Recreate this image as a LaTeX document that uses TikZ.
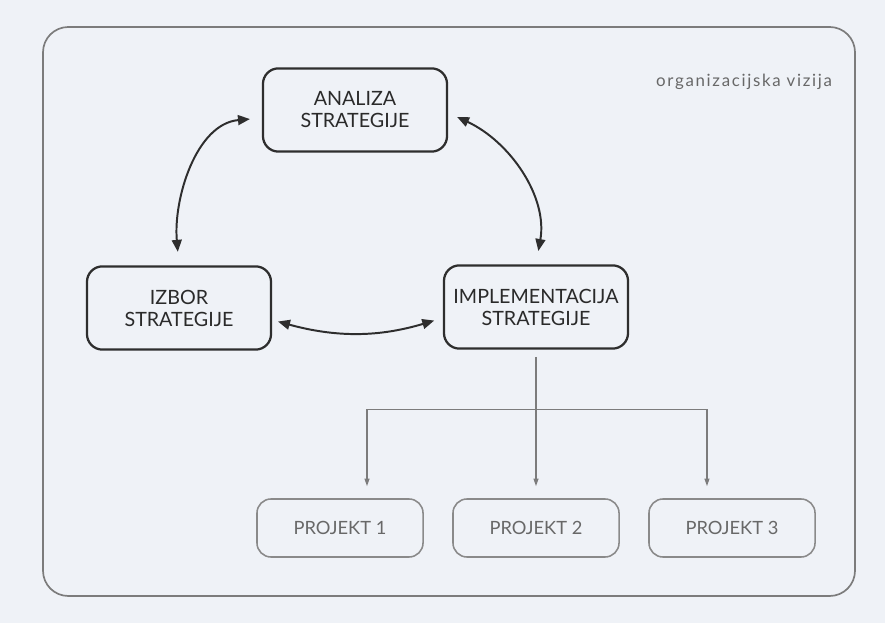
\documentclass[tikz,border=0pt]{standalone}
\usepackage{fontspec}
\setmainfont{Lato}
\usepackage{tikz}
\usetikzlibrary{arrows.meta,positioning,calc}
\definecolor{paper}{HTML}{EFF2F7}
\definecolor{boxline}{HTML}{2E2E2E}
\definecolor{boxtext}{HTML}{2A2A2A}
\definecolor{projline}{HTML}{8A8A8A}
\definecolor{projtext}{HTML}{686868}
\definecolor{framecol}{HTML}{7C7C7C}
\tikzset{
	stratbox/.style={draw=boxline,line width=1.6pt,rounded corners=11pt,minimum width=4.6cm,minimum height=2.08cm,
		align=center,text=boxtext,font=\fontsize{14}{15.6}\selectfont},
	projbox/.style={draw=projline,line width=1.1pt,rounded corners=10pt,minimum width=4.15cm,minimum height=1.45cm,
		text=projtext,font=\fontsize{13}{15}\selectfont},
	framebox/.style={draw=framecol,line width=1.2pt,rounded corners=18pt},
	diredge/.style={<->,>={Triangle[width=7pt,length=8.5pt]},color=boxline,line width=1.4pt},
	treeedge/.style={->,>={Triangle[width=3.5pt,length=5.5pt]},color=framecol,line width=1pt},
	visionlabel/.style={text=projtext,font=\fontsize{12}{14}\selectfont\addfontfeatures{LetterSpace=10}}
}
\begin{document}
\begin{tikzpicture}[x=0.025cm,y=0.025cm]

	%%background and frame
	\fill[paper] (0,0) rectangle (885,623);
	\draw[framebox] (43,27) rectangle (855,596);
	\node[visionlabel,anchor=base east] (vizija) at (837,536) {organizacijska vizija};

	%%strategy cycle
	\node[stratbox] (analiza) at (355,513) {ANALIZA\\STRATEGIJE};
	\node[stratbox] (izbor) at (179,315) {IZBOR\\STRATEGIJE};
	\node[stratbox] (impl) at (536,316) {IMPLEMENTACIJA\\STRATEGIJE};

	%%projects
	\node[projbox] (p1) at (340,95) {PROJEKT 1};
	\node[projbox] (p2) at (536,95) {PROJEKT 2};
	\node[projbox] (p3) at (732,95) {PROJEKT 3};

	%%%%%% EDGES

	%cycle
	\draw[diredge,shorten <=8.5pt,shorten >=9.6pt] ([yshift=-5.7pt]analiza.west) to [out=185,in=95] (izbor.north);
	\draw[diredge,shorten <=7pt,shorten >=9.6pt] ([yshift=-2pt]analiza.east) to [out=-25,in=80] (impl.north);
	\draw[diredge,shorten <=4.3pt,shorten >=6.4pt] ([yshift=-8.5pt]izbor.east) to [bend right=16] ([yshift=-7.8pt]impl.west);

	%implementation to projects
	\coordinate (fork) at ($(impl.south)+(0,-60)$);
	\draw[treeedge,shorten <=5pt,shorten >=8.5pt] (impl.south) -- (p2.north);
	\draw[treeedge,shorten >=8.5pt] (fork) -| ([xshift=19.2pt]p1.north);
	\draw[treeedge,shorten >=8.5pt] (fork) -| ([xshift=-17.8pt]p3.north);

\end{tikzpicture}
\end{document}
